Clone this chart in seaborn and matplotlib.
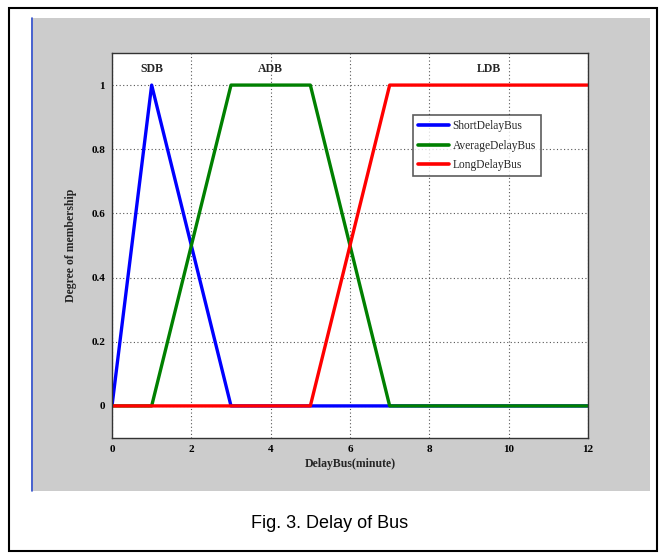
import matplotlib
matplotlib.use("Agg")
import matplotlib.pyplot as plt
import matplotlib.patches as mpatches
import seaborn as sns
import pandas as pd

# Data
short_x = [0, 1, 3, 12]
short_y = [0, 1, 0, 0]
avg_x = [0, 1, 3, 5, 7, 12]
avg_y = [0, 0, 1, 1, 0, 0]
long_x = [0, 5, 7, 12]
long_y = [0, 0, 1, 1]
series_names = ["ShortDelayBus", "AverageDelayBus", "LongDelayBus"]
region_labels = ["SDB", "ADB", "LDB"]
region_pos = [1, 4, 9.5]
x_ticks = [0, 2, 4, 6, 8, 10, 12]
y_ticks = [0, 0.2, 0.4, 0.6, 0.8, 1]
y_tick_labels = ["0", "0.2", "0.4", "0.6", "0.8", "1"]

df = pd.concat([
    pd.DataFrame({"x": short_x, "y": short_y, "series": series_names[0]}),
    pd.DataFrame({"x": avg_x, "y": avg_y, "series": series_names[1]}),
    pd.DataFrame({"x": long_x, "y": long_y, "series": series_names[2]}),
], ignore_index=True)

sns.set_style("white")
serif = ["Liberation Serif", "DejaVu Serif"]

fig = plt.figure(figsize=(6.63, 5.54), dpi=100)
W, H = 663, 554
# outer border
fig.patches.append(mpatches.Rectangle((9 / W, 1 - 551 / H), 648 / W, 543 / H,
                                      transform=fig.transFigure, fill=False,
                                      edgecolor="black", linewidth=1.5, zorder=-2))
# gray panel
fig.patches.append(mpatches.Rectangle((31 / W, 1 - 491 / H), 619 / W, 473 / H,
                                      transform=fig.transFigure, facecolor="#cccccc",
                                      edgecolor="none", zorder=-2))
fig.lines.append(plt.Line2D([31.5 / W, 31.5 / W], [1 - 491 / H, 1 - 18 / H],
                            transform=fig.transFigure, color="#3050d0", linewidth=1.2,
                            zorder=-1))

ax = fig.add_axes([112 / W, 1 - 438 / H, 476 / W, 385 / H])
ax.set_zorder(2)
ax.set_facecolor("white")
palette = {series_names[0]: "#0000ff", series_names[1]: "#008000", series_names[2]: "#ff0000"}
sns.lineplot(data=df, x="x", y="y", hue="series", palette=palette, sort=False,
             linewidth=2.4, ax=ax, legend=False)

ax.set_xlim(0, 12)
ax.set_ylim(-0.1, 1.1)
ax.set_xticks(x_ticks)
ax.set_yticks(y_ticks)
ax.set_yticklabels(y_tick_labels)
for lab in ax.get_xticklabels() + ax.get_yticklabels():
    lab.set_fontfamily(serif)
    lab.set_fontweight("bold")
    lab.set_fontsize(8)
ax.tick_params(direction="in", length=3, width=0.8, colors="black", pad=5)
ax.grid(True, color="#555555", linestyle=(0, (1, 2.2)), linewidth=0.8)
ax.set_axisbelow(True)
for s in ax.spines.values():
    s.set_color("#333333")
    s.set_linewidth(1.0)

ax.set_xlabel("DelayBus(minute)", fontfamily=serif, fontweight="bold", fontsize=8.5, labelpad=3)
ax.set_ylabel("Degree of membership", fontfamily=serif, fontweight="bold", fontsize=8.5, labelpad=10)

for lbl, xp in zip(region_labels, region_pos):
    ax.text(xp, 1.05, lbl, ha="center", va="center", fontfamily=serif,
            fontsize=8.5, fontweight="bold")

handles = [plt.Line2D([], [], color=palette[n], linewidth=2.6) for n in series_names]
leg = ax.legend(handles, series_names, loc="upper left", bbox_to_anchor=(0.632, 0.839),
                prop={"family": serif, "size": 8.3}, frameon=True, fancybox=False,
                edgecolor="#333333", borderpad=0.45, handlelength=2.7, labelspacing=0.65,
                handletextpad=0.3, borderaxespad=0)
leg.get_frame().set_linewidth(1.2)

fig.text(330 / W, 1 - 524 / H, "Fig. 3. Delay of Bus", ha="center", va="center",
         fontfamily=["Liberation Sans", "DejaVu Sans"], fontsize=13, color="black")

fig.savefig("out.png", dpi=100)
